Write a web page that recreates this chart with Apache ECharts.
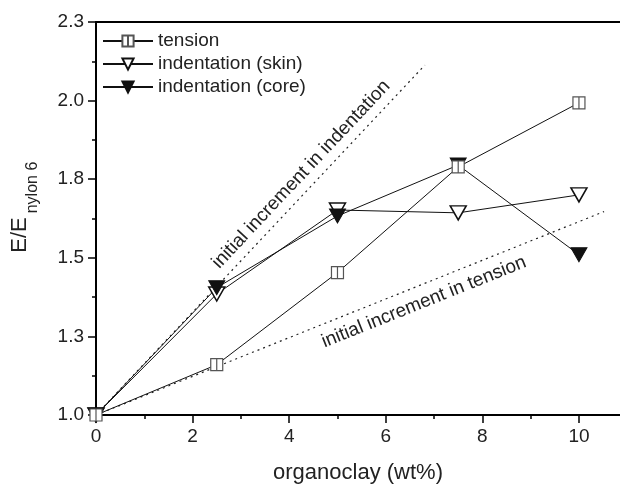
<!DOCTYPE html>
<html>
<head>
<meta charset="utf-8">
<script src="https://cdn.jsdelivr.net/npm/echarts@6/dist/echarts.min.js"></script>
<style>
html,body{margin:0;padding:0;background:#fff;}
#chart{width:620px;height:486px;}
</style>
</head>
<body>
<div id="chart"></div>
<script>
// organoclay loading (wt%)
var loading = [0, 2.5, 5, 7.5, 10];
// E / E_nylon6
var tension = [1.0, 1.16, 1.453, 1.789, 1.993];
var skin = [1.0, 1.385, 1.652, 1.643, 1.70];
var core = [1.0, 1.405, 1.633, 1.795, 1.51];
// dotted "initial increment" lines (end points)
var indentFitX = [0, 6.81];
var indentFitY = [1.0, 2.113];
var tensionFitX = [0, 10.52];
var tensionFitY = [1.0, 1.647];
var xTicks = [0, 2, 4, 6, 8, 10];
var xMinorTicks = [1, 3, 5, 7, 9];
var xTickLabels = ['0', '2', '4', '6', '8', '10'];
var yTickLabels = ['1.0', '1.3', '1.5', '1.8', '2.0', '2.3'];

var FONT = 'Liberation Sans, Arial, sans-serif';
var XMAX = 10.85;

function pairs(xs, ys) {
    var out = [];
    for (var i = 0; i < xs.length; i++) out.push([xs[i], ys[i]]);
    return out;
}

var squareSym = 'path://M0,0L12,0L12,12L0,12Z M6,0L6,12';
var triSym = 'path://M0,0L16,0L8,14Z';
var tickStyle = { color: '#000', width: 1.5 };

var chart = echarts.init(document.getElementById('chart'));

var option = {
    animation: false,
    backgroundColor: '#fff',
    grid: { left: 96, top: 22, right: 0, bottom: 71, outerBoundsMode: 'none', containLabel: false },
    legend: {
        orient: 'vertical',
        left: 102, top: 31, padding: 0,
        itemWidth: 50, itemHeight: 14, itemGap: 3,
        textStyle: { fontFamily: FONT, fontSize: 19, color: '#222', lineHeight: 20 },
        data: ['tension', 'indentation (skin)', 'indentation (core)']
    },
    xAxis: [
        {
            type: 'value', min: 0, max: XMAX, position: 'bottom',
            name: 'organoclay (wt%)', nameLocation: 'middle', nameGap: 47,
            nameTextStyle: { fontFamily: FONT, fontSize: 22, color: '#222' },
            axisLine: { lineStyle: { color: '#000', width: 2 } },
            axisTick: { length: 8, lineStyle: tickStyle, customValues: xTicks },
            splitLine: { show: false },
            axisLabel: {
                fontFamily: FONT, fontSize: 19, color: '#222', margin: 12,
                customValues: xTicks,
                formatter: function (v) { return xTickLabels[xTicks.indexOf(v)]; }
            }
        },
        {
            // minor ticks
            type: 'value', min: 0, max: XMAX, position: 'bottom', offset: 0,
            axisLine: { show: false },
            axisTick: { length: 4, lineStyle: tickStyle, customValues: xMinorTicks },
            axisLabel: { show: false },
            splitLine: { show: false }
        },
        {
            // top frame line
            type: 'value', min: 0, max: XMAX, position: 'top',
            axisLine: { lineStyle: { color: '#000', width: 2 } },
            axisTick: { show: false },
            axisLabel: { show: false },
            splitLine: { show: false }
        }
    ],
    yAxis: {
        type: 'value', min: 1.0, max: 2.25, interval: 0.25,
        axisLine: { lineStyle: { color: '#000', width: 2 } },
        axisTick: { length: 8, lineStyle: tickStyle },
        minorTick: { show: true, splitNumber: 2, length: 4, lineStyle: tickStyle },
        splitLine: { show: false },
        axisLabel: {
            fontFamily: FONT, fontSize: 19, color: '#222', margin: 12,
            formatter: function (v) { return yTickLabels[Math.round((v - 1) / 0.25)]; }
        }
    },
    series: [
        {
            name: 'indent fit', type: 'line', data: pairs(indentFitX, indentFitY),
            symbol: 'none', silent: true,
            lineStyle: { color: '#222', width: 1.2, type: [2, 4] }
        },
        {
            name: 'tension fit', type: 'line', data: pairs(tensionFitX, tensionFitY),
            symbol: 'none', silent: true,
            lineStyle: { color: '#222', width: 1.2, type: [2, 4] }
        },
        {
            name: 'indentation (skin)', type: 'line', data: pairs(loading, skin),
            symbol: triSym, symbolSize: [16, 14],
            lineStyle: { color: '#111', width: 1 },
            itemStyle: { color: '#fff', borderColor: '#111', borderWidth: 1.5 }
        },
        {
            name: 'indentation (core)', type: 'line', data: pairs(loading, core),
            symbol: triSym, symbolSize: [16, 14],
            lineStyle: { color: '#111', width: 1 },
            itemStyle: { color: '#111', borderColor: '#111', borderWidth: 1 }
        },
        {
            name: 'tension', type: 'line', data: pairs(loading, tension),
            symbol: squareSym, symbolSize: [12, 12],
            lineStyle: { color: '#111', width: 1 },
            itemStyle: { color: '#fff', borderColor: '#555', borderWidth: 1.2 }
        }
    ]
};
chart.setOption(option);

// rotated annotations placed from data coordinates
function note(text, x, y, fitX, fitY) {
    var p = chart.convertToPixel({ gridIndex: 0 }, [x, y]);
    var a = chart.convertToPixel({ gridIndex: 0 }, [fitX[0], fitY[0]]);
    var b = chart.convertToPixel({ gridIndex: 0 }, [fitX[1], fitY[1]]);
    var ang = Math.atan2(a[1] - b[1], b[0] - a[0]);
    return {
        type: 'text', x: p[0], y: p[1], rotation: ang,
        style: { text: text, fontFamily: FONT, fontSize: 19, fill: '#222', align: 'center', verticalAlign: 'middle' }
    };
}
chart.setOption({
    graphic: [
        note('initial increment in indentation', 4.25, 1.765, indentFitX, indentFitY),
        note('initial increment in tension', 6.79, 1.359, tensionFitX, tensionFitY),
        {
            // y axis title E/E_nylon 6, rotated
            type: 'group', x: 20, y: 235, rotation: Math.PI / 2,
            children: [
                { type: 'text', x: 0, y: 0, style: { text: 'E/E', fontFamily: FONT, fontSize: 22, fill: '#222', align: 'center', verticalAlign: 'middle' } },
                { type: 'text', x: 47.5, y: 12.5, style: { text: 'nylon 6', fontFamily: FONT, fontSize: 16, fill: '#222', align: 'center', verticalAlign: 'middle' } }
            ]
        }
    ]
});
</script>
</body>
</html>
